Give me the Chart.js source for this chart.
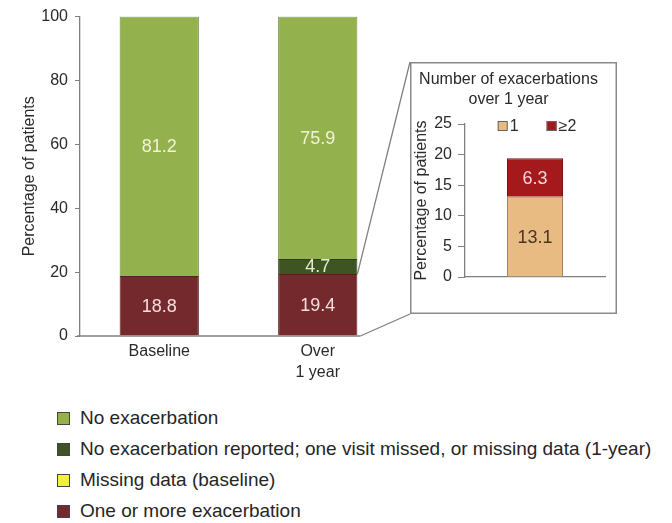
<!DOCTYPE html>
<html>
<head>
<meta charset="utf-8">
<script src="https://cdn.jsdelivr.net/npm/chart.js@4.4.1/dist/chart.umd.min.js"></script>
<style>
  body { margin: 0; width: 672px; height: 523px; background: #fff; position: relative; overflow: hidden;
         font-family: "Liberation Sans", Arial, sans-serif; }
  #mainWrap { position: absolute; left: 0; top: 0; width: 672px; height: 390px; }
  #insetWrap { position: absolute; left: 410px; top: 62px; width: 207px; height: 252px; background: #fff; }
  #legend { position: absolute; left: 57px; top: 402px; }
  .row { height: 31px; line-height: 31px; font-size: 19px; color: #262626; white-space: nowrap; }
  .sw { display: inline-block; width: 13px; height: 13px; border: 1px solid #444; box-sizing: border-box;
        margin-right: 10px; vertical-align: -1px; }
</style>
</head>
<body>
<div id="mainWrap"><canvas id="mainChart"></canvas></div>
<div id="insetWrap"><canvas id="insetChart"></canvas></div>
<div id="legend"></div>

<script>
// main chart data (stack order bottom -> top)
const categories = [['Baseline'], ['Over', '1 year']];
const oneOrMore = [18.8, 19.4];
const missingBaseline = [0, 0];
const notReported = [0, 4.7];
const noExacerbation = [81.2, 75.9];
const yTicks = [0, 20, 40, 60, 80, 100];

// inset data
const insetCategories = ['Over 1 year'];
const exacOne = [13.1];
const exacTwoPlus = [6.3];
const insetTicks = [0, 5, 10, 15, 20, 25];

const FONT = '"Liberation Sans", Arial, sans-serif';

// value labels drawn in the middle of each segment
const valueLabels = {
  id: 'valueLabels',
  afterDatasetsDraw(chart, args, opts) {
    const ctx = chart.ctx;
    ctx.save();
    ctx.font = '18px ' + FONT;
    ctx.textAlign = 'center';
    ctx.textBaseline = 'middle';
    chart.data.datasets.forEach((ds, i) => {
      const meta = chart.getDatasetMeta(i);
      meta.data.forEach((el, j) => {
        const v = ds.data[j];
        if (!v) return;
        ctx.fillStyle = opts.colors[i];
        ctx.fillText(v.toFixed(1), el.x, (el.y + el.base) / 2 + 1);
      });
    });
    ctx.restore();
  }
};

// x axis line + zoom lines to the inset box
const connectors = {
  id: 'connectors',
  afterDraw(chart) {
    const ctx = chart.ctx;
    const el = chart.getDatasetMeta(0).data[1];
    const right = el.x + el.width / 2;
    const area = chart.chartArea;
    ctx.save();
    ctx.strokeStyle = '#808080';
    ctx.lineWidth = 1.3;
    ctx.beginPath();
    ctx.moveTo(area.left - 3, area.bottom);
    ctx.lineTo(right + 3, area.bottom);
    ctx.stroke();
    ctx.beginPath();
    ctx.moveTo(right, el.y);
    ctx.lineTo(410, 62);
    ctx.moveTo(right + 3, area.bottom);
    ctx.lineTo(410, 314);
    ctx.stroke();
    ctx.restore();
  }
};

new Chart(document.getElementById('mainChart'), {
  type: 'bar',
  data: {
    labels: categories,
    datasets: [
      { label: 'One or more exacerbation', data: oneOrMore, backgroundColor: '#742a2c', borderColor: '#5a1f20', borderWidth: 1 },
      { label: 'Missing data (baseline)', data: missingBaseline, backgroundColor: '#f2f23a', borderColor: '#777', borderWidth: 0 },
      { label: 'No exacerbation reported; one visit missed, or missing data (1-year)', data: notReported, backgroundColor: '#3e5422', borderColor: '#2e3f18', borderWidth: 1 },
      { label: 'No exacerbation', data: noExacerbation, backgroundColor: '#93b24e', borderColor: '#6f8a3a', borderWidth: 1 }
    ]
  },
  options: {
    responsive: true,
    maintainAspectRatio: false,
    animation: false,
    barPercentage: 0.5,
    categoryPercentage: 1,
    layout: { padding: { top: 13, left: 16, right: 275, bottom: 0 } },
    plugins: {
      legend: { display: false },
      tooltip: { enabled: false },
      valueLabels: { colors: ['#f6dede', '#333', '#e6ecd2', '#f2f2d6'] }
    },
    scales: {
      x: {
        stacked: true,
        grid: { display: false, drawTicks: false },
        border: { display: false },
        ticks: { color: '#2a2a2a', font: { size: 16, family: FONT, lineHeight: 1.3 }, padding: 5 },
        afterFit: s => { s.height = 54; }
      },
      y: {
        stacked: true,
        min: 0,
        max: 100,
        afterBuildTicks: s => { s.ticks = yTicks.map(v => ({ value: v })); },
        grid: { drawOnChartArea: false, tickLength: 5, color: '#808080' },
        border: { color: '#808080', width: 1.3 },
        ticks: { color: '#2a2a2a', font: { size: 16, family: FONT }, padding: 7 },
        title: { display: true, text: 'Percentage of patients', color: '#2a2a2a', font: { size: 16, family: FONT }, padding: 4 },
        afterFit: s => { s.width = 64; }
      }
    }
  },
  plugins: [valueLabels, connectors]
});

// legend for the inset (drawn inside the plot area) + box outline
const insetDecor = {
  id: 'insetDecor',
  afterDraw(chart) {
    const ctx = chart.ctx;
    const area = chart.chartArea;
    ctx.save();
    ctx.font = '16px ' + FONT;
    ctx.textBaseline = 'middle';
    const items = chart.data.datasets.map(ds => ({ text: ds.label, color: ds.backgroundColor, w: 10 + 2 + ctx.measureText(ds.label).width }));
    const gap = 28;
    const total = items.reduce((a, it) => a + it.w, 0) + gap * (items.length - 1);
    let x = (area.left + area.right) / 2 + 2 - total / 2;
    const y = area.top + 2;
    items.forEach(it => {
      ctx.fillStyle = it.color;
      ctx.fillRect(x, y - 5, 10, 10);
      ctx.strokeStyle = '#666';
      ctx.lineWidth = 1;
      ctx.strokeRect(x + 0.5, y - 4.5, 9, 9);
      ctx.fillStyle = '#2a2a2a';
      ctx.fillText(it.text, x + 12, y + 1);
      x += it.w + gap;
    });
    ctx.strokeStyle = '#8a8a8a';
    ctx.lineWidth = 1.5;
    ctx.strokeRect(0.75, 0.75, chart.width - 1.5, chart.height - 1.5);
    ctx.restore();
  }
};

new Chart(document.getElementById('insetChart'), {
  type: 'bar',
  data: {
    labels: insetCategories,
    datasets: [
      { label: '1', data: exacOne, backgroundColor: '#e8bb82', borderColor: '#a8845a', borderWidth: 1 },
      { label: '\u22652', data: exacTwoPlus, backgroundColor: '#a4191c', borderColor: '#7a1214', borderWidth: 1 }
    ]
  },
  options: {
    responsive: true,
    maintainAspectRatio: false,
    animation: false,
    barPercentage: 0.4,
    categoryPercentage: 1,
    layout: { padding: { top: 0, left: 2, right: 12, bottom: 0 } },
    plugins: {
      legend: { display: false },
      tooltip: { enabled: false },
      title: {
        display: true,
        text: ['Number of exacerbations', 'over 1 year'],
        color: '#2a2a2a',
        font: { size: 16, family: FONT, weight: 'normal', lineHeight: 1.25 },
        padding: { top: 8, bottom: 14 }
      },
      valueLabels: { colors: ['#4e3424', '#f6d6d6'] }
    },
    scales: {
      x: {
        stacked: true,
        grid: { display: false },
        border: { color: '#808080', width: 1.3 },
        ticks: { display: false },
        afterFit: s => { s.height = 37; }
      },
      y: {
        stacked: true,
        min: 0,
        max: 25,
        afterBuildTicks: s => { s.ticks = insetTicks.map(v => ({ value: v })); },
        grid: { drawOnChartArea: false, tickLength: 7, color: '#808080' },
        border: { color: '#808080', width: 1.3 },
        ticks: { color: '#2a2a2a', font: { size: 16, family: FONT }, padding: 6 },
        title: { display: true, text: 'Percentage of patients', color: '#2a2a2a', font: { size: 16, family: FONT }, padding: 0 },
        afterFit: s => { s.width = 53; }
      }
    }
  },
  plugins: [valueLabels, insetDecor]
});

// bottom legend, listed top to bottom as in the figure
const legendOrder = [
  ['No exacerbation', '#93b24e'],
  ['No exacerbation reported; one visit missed, or missing data (1-year)', '#3e5422'],
  ['Missing data (baseline)', '#f2f23a'],
  ['One or more exacerbation', '#742a2c']
];
document.getElementById('legend').innerHTML = legendOrder.map(([t, c]) =>
  '<div class="row"><span class="sw" style="background:' + c + '"></span>' + t + '</div>').join('');
</script>
</body>
</html>
